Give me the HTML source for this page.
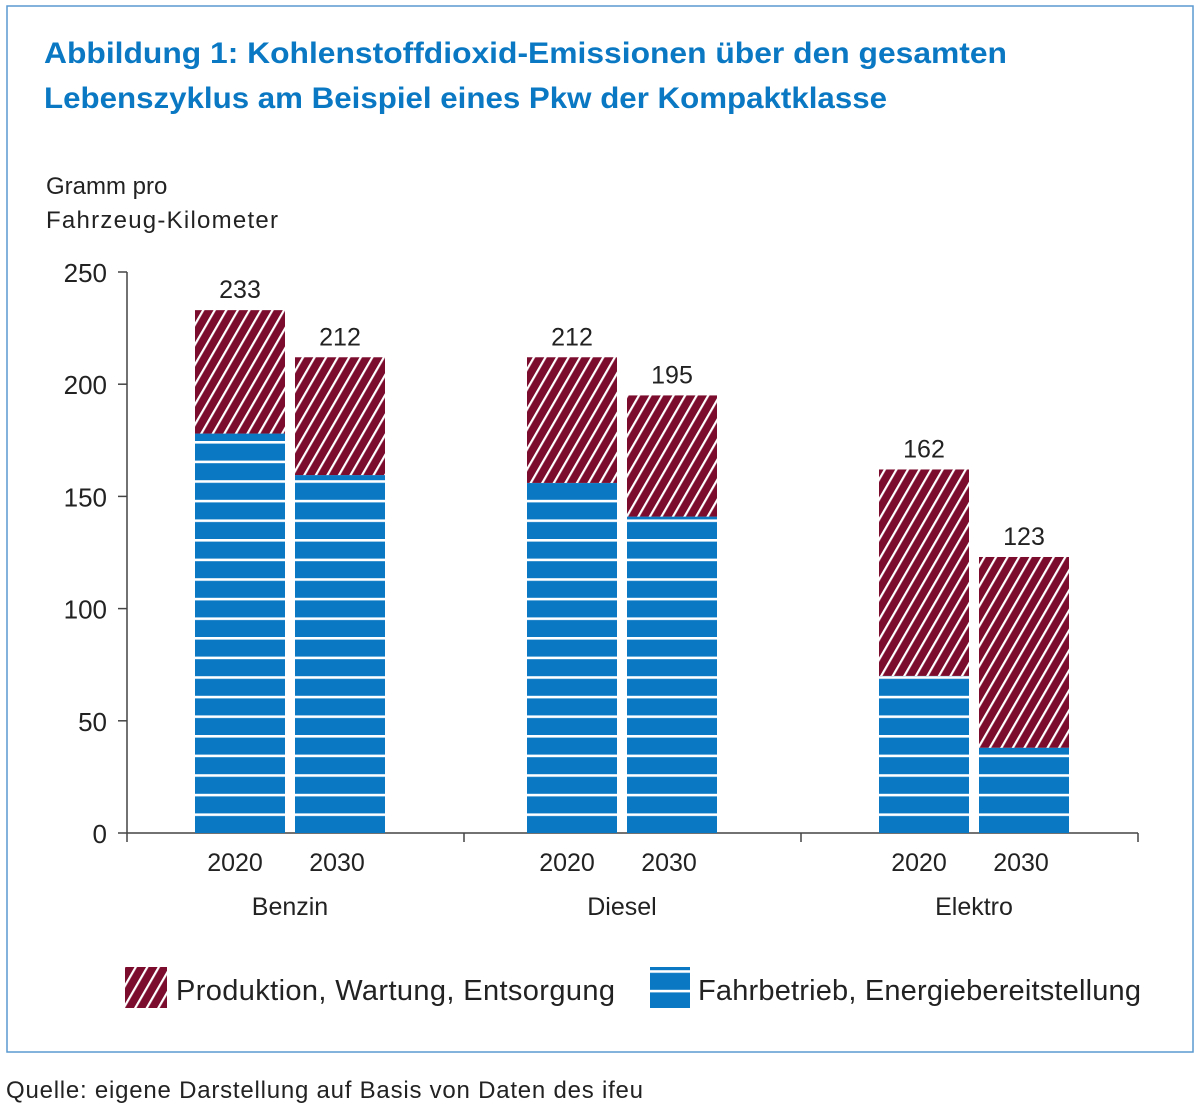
<!DOCTYPE html>
<html><head><meta charset="utf-8"><style>
body{margin:0;background:#fff;width:1200px;height:1110px;overflow:hidden;font-family:"Liberation Sans",sans-serif}
</style></head><body>
<svg width="1200" height="1110" xmlns="http://www.w3.org/2000/svg">
<defs>
<pattern id="hatch" patternUnits="userSpaceOnUse" width="10" height="10" patternTransform="rotate(30)">
<rect width="10" height="10" fill="#7b0c2e"/><rect x="0" y="0" width="2.2" height="10" fill="#fff"/>
</pattern>
<pattern id="stripes" patternUnits="userSpaceOnUse" width="20" height="19.6" y="833">
<rect width="20" height="19.6" fill="#0a78c3"/><rect x="0" y="0" width="20" height="2.6" fill="#fff"/>
</pattern>
</defs>
<rect x="7" y="6" width="1186" height="1046" fill="none" stroke="#5a9ad0" stroke-width="1.5"/>
<text x="44" y="63" font-size="30" font-weight="bold" fill="#0a78c3" textLength="963" lengthAdjust="spacingAndGlyphs">Abbildung 1: Kohlenstoffdioxid-Emissionen über den gesamten</text>
<text x="44" y="108" font-size="30" font-weight="bold" fill="#0a78c3" textLength="843" lengthAdjust="spacingAndGlyphs">Lebenszyklus am Beispiel eines Pkw der Kompaktklasse</text>
<text x="46" y="194" font-size="24" fill="#222">Gramm pro</text>
<text x="46" y="228" font-size="24" fill="#222" textLength="232">Fahrzeug-Kilometer</text>
<g id="axes"></g>
<g id="bars"></g>
<rect x="125" y="967" width="42" height="41" fill="url(#hatch)"/>
<text x="176" y="1000" font-size="29" fill="#222" textLength="439">Produktion, Wartung, Entsorgung</text>
<rect x="650" y="967" width="40" height="41" fill="url(#stripes)"/>
<text x="698" y="1000" font-size="29" fill="#222" textLength="443">Fahrbetrieb, Energiebereitstellung</text>
<text x="6" y="1098" font-size="24" fill="#222" textLength="637">Quelle: eigene Darstellung auf Basis von Daten des ifeu</text>
</svg>
<script>
const groups=["Benzin","Diesel","Elektro"];
const years=["2020","2030"];
const fahrbetrieb=[178,159.5,156,141,70,38];
const totals=[233,212,212,195,162,123];
const yTicks=[0,50,100,150,200,250];
const NS="http://www.w3.org/2000/svg";
const y0=833,yScale=561/250;
const y=v=>y0-v*yScale;
const groupX=[195,527,879];
const barW=90,barGap=100;
function mk(tag,attrs,parent){const e=document.createElementNS(NS,tag);for(const k in attrs)e.setAttribute(k,attrs[k]);parent.appendChild(e);return e;}
const ax=document.getElementById('axes'),bars=document.getElementById('bars');
let l=mk('line',{x1:127,y1:y(250),x2:127,y2:y0,stroke:'#444','stroke-width':1.5},ax);


l=mk('line',{x1:127,y1:y0,x2:1138,y2:y0,stroke:'#444','stroke-width':1.5},ax);


[127,464,801,1138].forEach(x=>{const t=mk('line',{x1:x,y1:y0,x2:x,y2:y0+9,stroke:'#444','stroke-width':1.5},ax);

});
yTicks.forEach(v=>{const t=mk('line',{x1:118,y1:y(v),x2:127,y2:y(v),stroke:'#444','stroke-width':1.5},ax);


const tx=mk('text',{x:107,y:y(v)+10,'font-size':26,'text-anchor':'end',fill:'#222'},ax);tx.textContent=v;

});
groups.forEach((g,gi)=>{
 years.forEach((yr,yi)=>{
  const i=gi*2+yi,x=groupX[gi]+yi*barGap;
  const b=mk('rect',{x:x,y:y(fahrbetrieb[i]),width:barW,height:fahrbetrieb[i]*yScale,fill:'url(#stripes)'},bars);
  
  
  const h=mk('rect',{x:x,y:y(totals[i]),width:barW,height:(totals[i]-fahrbetrieb[i])*yScale,fill:'url(#hatch)'},bars);
  
  
  const vl=mk('text',{x:x+barW/2,y:y(totals[i])-12,'font-size':25,'text-anchor':'middle',fill:'#222'},bars);vl.textContent=totals[i];
  
  
  const yl=mk('text',{x:x+barW/2-5+yi*2,y:871,'font-size':25,'text-anchor':'middle',fill:'#222'},bars);yl.textContent=yr;
  
  
 });
 const gl=mk('text',{x:groupX[gi]+95,y:915,'font-size':25,'text-anchor':'middle',fill:'#222'},bars);gl.textContent=g;
 
 
});
</script>
</body></html>
